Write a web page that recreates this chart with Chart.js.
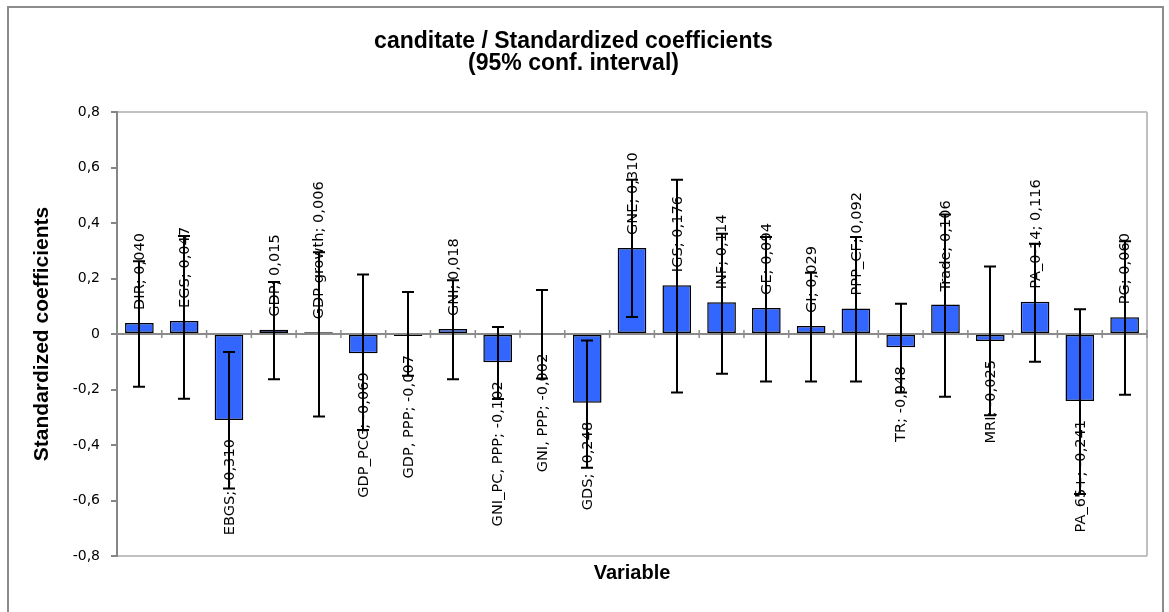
<!DOCTYPE html>
<html><head><meta charset="utf-8">
<script src="https://cdn.jsdelivr.net/npm/chart.js@4"></script>
<style>
html,body{margin:0;padding:0;background:#fff;}
#wrap{position:relative;width:1169px;height:612px;overflow:hidden;background:#fff;}
#frame{position:absolute;left:7px;top:6px;width:1157px;height:640px;border:2px solid #8c8c8c;box-sizing:border-box;pointer-events:none;}
canvas{position:absolute;left:0;top:0;}
</style></head><body>
<div id="wrap"><canvas id="c" width="1169" height="612"></canvas><div id="frame"></div></div>
<script>
const categories = ['DIR','EGS','EBGS','GDP','GDP growth','GDP_PCG','GDP, PPP','GNI','GNI_PC, PPP','GNI, PPP','GDS','GNE','IGS','INF','GE','GI','PPP_CF','TR','Trade','MRI','PA_0-14','PA_65+','PG'];
const coefficients = [0.040,0.047,-0.310,0.015,0.006,-0.069,-0.007,0.018,-0.102,-0.002,-0.248,0.310,0.176,0.114,0.094,0.029,0.092,-0.048,0.106,-0.025,0.116,-0.241,0.060];
const ciUpper = [0.262,0.353,-0.065,0.187,0.295,0.214,0.151,0.194,0.025,0.159,-0.023,0.556,0.556,0.361,0.350,0.221,0.350,0.109,0.431,0.243,0.325,0.089,0.334];
const ciLower = [-0.190,-0.233,-0.557,-0.163,-0.297,-0.346,-0.150,-0.163,-0.234,-0.160,-0.482,0.061,-0.211,-0.143,-0.171,-0.171,-0.171,-0.211,-0.226,-0.293,-0.100,-0.577,-0.219];
const yTickLabels = ['-0,8','-0,6','-0,4','-0,2','0','0,2','0,4','0,6','0,8'];
const titleLines = ['canditate / Standardized coefficients','(95% conf. interval)'];

const fmt = v => v.toFixed(3).replace('.', ',');

const overlay = {
  id: 'overlay',
  afterDatasetsDraw(chart) {
    const ctx = chart.ctx, xs = chart.scales.x, ys = chart.scales.y, ca = chart.chartArea;
    ctx.save();
    // right border of plot area
    ctx.strokeStyle = '#c0c0c0'; ctx.lineWidth = 2;
    ctx.beginPath(); ctx.moveTo(ca.right, ca.top); ctx.lineTo(ca.right, ca.bottom); ctx.stroke();
    // zero axis line
    const y0 = ys.getPixelForValue(0);
    ctx.strokeStyle = '#8a8a8a'; ctx.lineWidth = 2;
    ctx.beginPath(); ctx.moveTo(ca.left, y0); ctx.lineTo(ca.right, y0); ctx.stroke();
    // cross ticks at category boundaries
    ctx.lineWidth = 1.5;
    for (let i = 0; i <= categories.length; i++) {
      const xb = xs.getPixelForValue(i - 0.5);
      ctx.beginPath(); ctx.moveTo(xb, y0 - 4); ctx.lineTo(xb, y0 + 4); ctx.stroke();
    }
    // data labels
    ctx.fillStyle = '#000';
    ctx.font = '14.6px "DejaVu Sans", sans-serif';
    ctx.textBaseline = 'middle';
    coefficients.forEach((v, i) => {
      const x = xs.getPixelForValue(i);
      const yv = ys.getPixelForValue(v);
      const txt = categories[i] + '; ' + fmt(v);
      ctx.save();
      ctx.translate(x + 1, v >= 0 ? yv - 13 : yv + 19);
      ctx.rotate(-Math.PI / 2);
      ctx.textAlign = v >= 0 ? 'left' : 'right';
      ctx.fillText(txt, 0, 0);
      ctx.restore();
    });
    // error bars
    ctx.strokeStyle = '#000'; ctx.lineWidth = 2;
    coefficients.forEach((v, i) => {
      const x = Math.round(xs.getPixelForValue(i));
      const yu = ys.getPixelForValue(ciUpper[i]);
      const yl = ys.getPixelForValue(ciLower[i]);
      ctx.beginPath();
      ctx.moveTo(x, yu); ctx.lineTo(x, yl);
      ctx.moveTo(x - 6, yu); ctx.lineTo(x + 6, yu);
      ctx.moveTo(x - 6, yl); ctx.lineTo(x + 6, yl);
      ctx.stroke();
    });
    ctx.restore();
  }
};

new Chart(document.getElementById('c'), {
  type: 'bar',
  data: {
    labels: categories,
    datasets: [{
      data: coefficients,
      backgroundColor: '#3366ff',
      borderColor: '#000',
      borderWidth: 1.5,
      borderSkipped: false,
      categoryPercentage: 1,
      barPercentage: 0.64
    }]
  },
  options: {
    responsive: false,
    animation: false,
    devicePixelRatio: 1,
    layout: { padding: { left: 0, right: 22, top: 0, bottom: 0 } },
    plugins: {
      legend: { display: false },
      tooltip: { enabled: false },
      title: {
        display: true,
        text: titleLines,
        color: '#000',
        font: { family: '"Liberation Sans", Arial, sans-serif', size: 23, weight: 'bold', lineHeight: 0.95 },
        padding: { top: 31, bottom: 37.3 }
      }
    },
    scales: {
      x: {
        type: 'category',
        offset: true,
        grid: { display: false },
        border: { display: false },
        ticks: { display: false },
        title: {
          display: true, text: 'Variable', color: '#000',
          font: { family: '"Liberation Sans", Arial, sans-serif', size: 20, weight: 'bold', lineHeight: 1.2 },
          padding: { top: 0, bottom: 27 }
        },
        afterFit: s => { s.height = 56; }
      },
      y: {
        min: -0.8, max: 0.8,
        ticks: {
          stepSize: 0.2,
          color: '#000',
          padding: 11,
          font: { family: '"DejaVu Sans", sans-serif', size: 14 },
          callback: (v, i) => yTickLabels[i]
        },
        grid: {
          drawOnChartArea: true,
          tickLength: 6,
          tickColor: '#868686',
          tickWidth: 2,
          color: c => (Math.abs(Math.abs(c.tick.value) - 0.8) < 1e-6 ? '#c0c0c0' : 'rgba(0,0,0,0)'),
          lineWidth: 2
        },
        border: { display: true, color: '#868686', width: 2 },
        title: {
          display: true, text: 'Standardized coefficients', color: '#000',
          font: { family: '"Liberation Sans", Arial, sans-serif', size: 21, weight: 'bold', lineHeight: 1.2 },
          padding: { top: 30, bottom: 0 }
        },
        afterFit: s => { s.width = 117; }
      }
    }
  },
  plugins: [overlay]
});
</script>
</body></html>
